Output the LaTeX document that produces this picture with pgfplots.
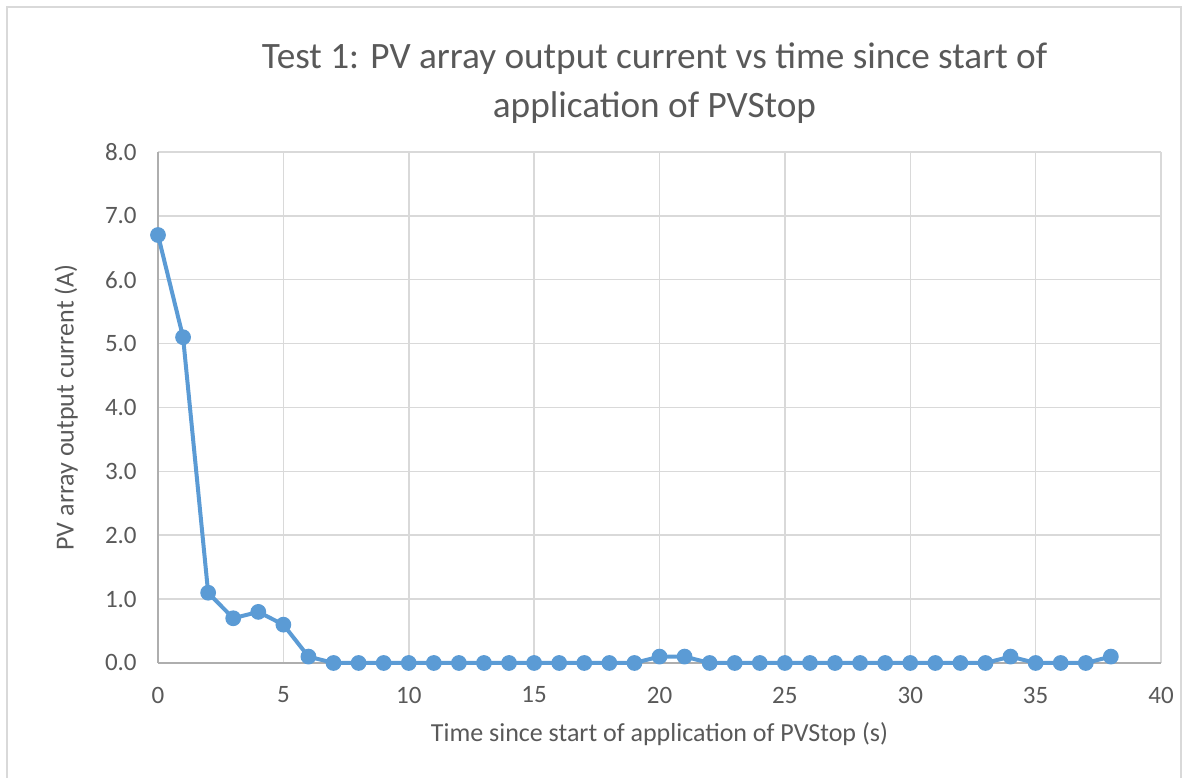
\documentclass[border=0pt]{standalone}
\usepackage{pgfplots}
\pgfplotsset{compat=1.18}
\usepackage{fontspec}
\setmainfont{Carlito}
\definecolor{txt}{HTML}{595959}
\definecolor{grd}{HTML}{D9D9D9}
\definecolor{ser}{HTML}{5B9BD5}
\begin{document}
\begin{tikzpicture}[x=0.4pt,y=0.4pt]
\path[use as bounding box] (0,0) rectangle (1189,778);
\draw[grd, line width=0.8pt] (7,-5) -- (7,771) -- (1181,771) -- (1181,-5);
\begin{axis}[
  at={(63.2pt,46pt)}, anchor=origin,
  scale only axis, width=401.2pt, height=204.4pt,
  xmin=0, xmax=40, ymin=0, ymax=8,
  xtick={0,5,...,40}, ytick={0,1,...,8},
  yticklabel={\pgfmathprintnumber[fixed,fixed zerofill,precision=1]{\tick}},
  /pgf/number format/assume math mode=true,
  grid=major, major grid style={grd, line width=0.6pt},
  axis line style={draw=none},
  tick style={draw=none},
  every tick label/.style={font=\fontsize{10}{12}\selectfont, text=txt},
  xticklabel style={yshift=-6pt},
  yticklabel style={xshift=-5pt},
  xlabel={Time since start of application of PVStop (s)},
  ylabel={PV array output current (A)},
  label style={font=\fontsize{10.4}{12}\selectfont, text=txt},
  xlabel style={yshift=-1pt},
  ylabel style={yshift=4pt},
  title={Test 1: PV array output current vs time since start of\\application of PVStop},
  title style={font=\fontsize{14.9}{19.6}\selectfont, text=txt, align=center, yshift=2pt, xshift=-2pt},
  clip=false,
]
\draw[color=grd!80!black, line width=0.8pt] (axis cs:0,0) -- (axis cs:40,0);
\draw[color=grd!80!black, line width=0.8pt] (axis cs:0,0) -- (axis cs:0,8);
\addplot[color=ser, line width=1.6pt, mark=*, mark size=2.9pt, mark options={fill=ser, draw=ser, line width=0.5pt}] coordinates {
(0,6.7) (1,5.1) (2,1.1) (3,0.7) (4,0.8) (5,0.6) (6,0.1) (7,0) (8,0) (9,0)
(10,0) (11,0) (12,0) (13,0) (14,0) (15,0) (16,0) (17,0) (18,0) (19,0)
(20,0.1) (21,0.1) (22,0) (23,0) (24,0) (25,0) (26,0) (27,0) (28,0) (29,0)
(30,0) (31,0) (32,0) (33,0) (34,0.1) (35,0) (36,0) (37,0) (38,0.1)
};
\end{axis}
\end{tikzpicture}
\end{document}
